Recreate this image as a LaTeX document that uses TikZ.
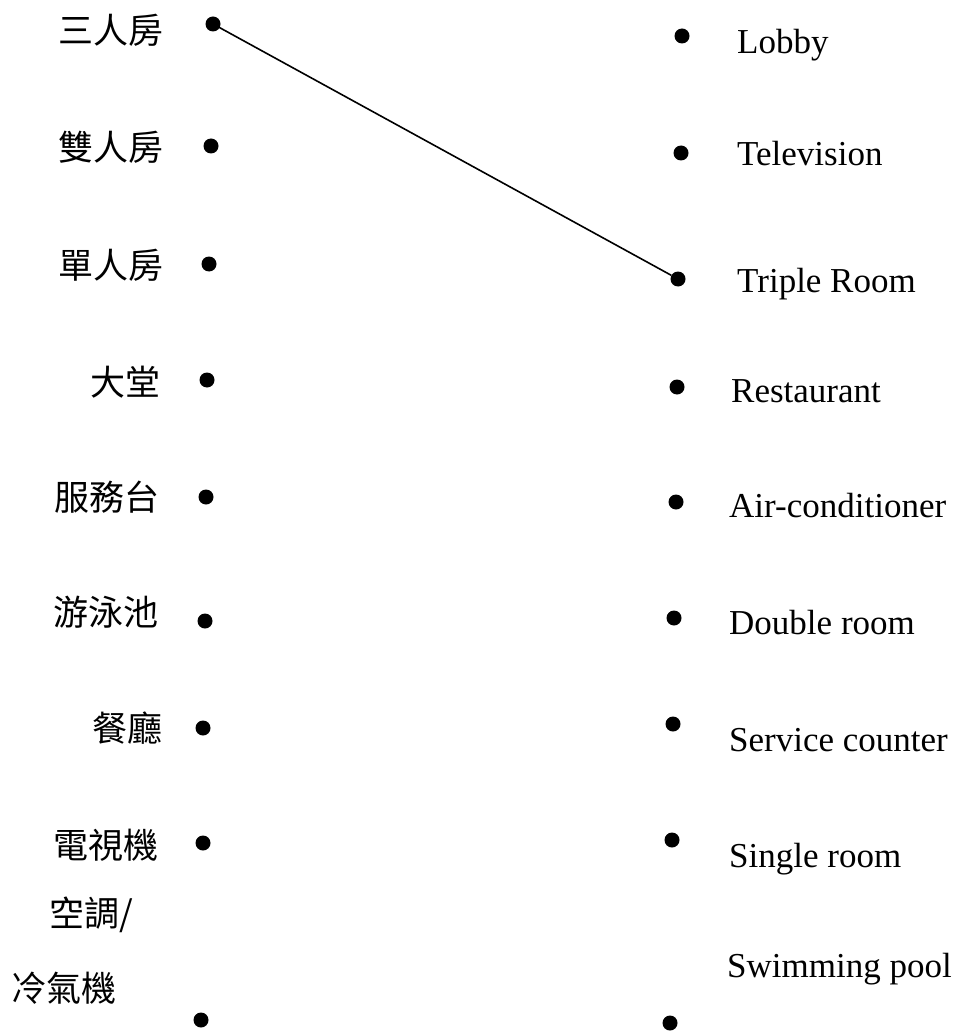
\documentclass[tikz,border=0pt]{standalone}
\usepackage{fontspec}
\setmainfont{Liberation Serif}
\newfontfamily\cjk{Noto Sans CJK TC}
\begin{document}
\begin{tikzpicture}[x=1pt,y=-1pt,
  dot/.style={circle,fill=black,inner sep=0pt,minimum size=15pt},
  zh/.style={font=\cjk\fontsize{35}{40}\selectfont,inner sep=0pt,anchor=base east},
  en/.style={font=\fontsize{35}{40}\selectfont,inner sep=0pt,anchor=base west}]
\useasboundingbox (0,0) rectangle (967,1032);
% left dots
\node[dot] (l1) at (213,24) {};
\node[dot] (l2) at (211,146) {};
\node[dot] (l3) at (209,264) {};
\node[dot] (l4) at (207,380) {};
\node[dot] (l5) at (206,497) {};
\node[dot] (l6) at (205,621) {};
\node[dot] (l7) at (203,728) {};
\node[dot] (l8) at (203,843) {};
\node[dot] (l9) at (201,1020) {};
% right dots
\node[dot] (r1) at (682,36) {};
\node[dot] (r2) at (681,153) {};
\node[dot] (r3) at (678,279) {};
\node[dot] (r4) at (677,387) {};
\node[dot] (r5) at (676,502) {};
\node[dot] (r6) at (674,618) {};
\node[dot] (r7) at (673,724) {};
\node[dot] (r8) at (672,840) {};
\node[dot] (r9) at (670,1023) {};
% left labels
\node[zh] (t1) at (164,44) {三人房};
\node[zh] (t2) at (164,161) {雙人房};
\node[zh] (t3) at (164,278) {單人房};
\node[zh] (t4) at (161,395) {大堂};
\node[zh] (t5) at (160,510) {服務台};
\node[zh] (t6) at (159,625) {游泳池};
\node[zh] (t7) at (163,741) {餐廳};
\node[zh] (t8) at (159,858) {電視機};
\node[zh] (t9) at (133,926) {空調/};
\node[zh,anchor=base west] (t10) at (11,1001) {冷氣機};
% right labels
\node[en] (e1) at (737,54) {Lobby};
\node[en] (e2) at (737,166) {Television};
\node[en] (e3) at (737,292) {Triple Room};
\node[en] (e4) at (731,402) {Restaurant};
\node[en] (e5) at (729,517) {Air-conditioner};
\node[en] (e6) at (729,634) {Double room};
\node[en] (e7) at (729,751) {Service counter};
\node[en] (e8) at (729,867) {Single room};
\node[en] (e9) at (727,977) {Swimming pool};
% connector
\draw[line width=1.6pt] (l1.center) -- (r3);
\end{tikzpicture}
\end{document}
